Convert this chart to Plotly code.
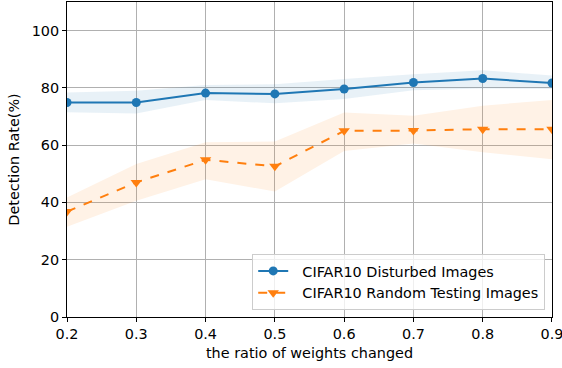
import plotly.graph_objects as go

# ratio of weights changed
ratios = [0.2, 0.3, 0.4, 0.5, 0.6, 0.7, 0.8, 0.9]

# CIFAR10 disturbed images: mean detection rate and band limits
disturbed_mean = [74.9, 74.9, 78.2, 77.9, 79.6, 81.9, 83.3, 81.7]
disturbed_upper = [78.4, 79.0, 81.0, 81.3, 83.1, 84.8, 86.2, 84.3]
disturbed_lower = [71.5, 71.1, 75.8, 74.6, 76.1, 79.2, 79.8, 79.6]

# CIFAR10 random testing images: mean detection rate and band limits
random_mean = [36.8, 47.0, 54.9, 52.6, 65.0, 65.1, 65.6, 65.6]
random_upper = [41.7, 53.4, 61.0, 61.3, 71.4, 70.3, 73.8, 75.8]
random_lower = [31.5, 40.6, 48.1, 43.8, 58.0, 60.6, 57.5, 55.1]

x_ticks = [0.2, 0.3, 0.4, 0.5, 0.6, 0.7, 0.8, 0.9]
y_ticks = [0, 20, 40, 60, 80, 100]

BLUE = "#1f77b4"
ORANGE = "#ff7f0e"
FONT = "DejaVu Sans"
FS = 14.4
PAD = "\u00a0\u00a0"  # small gap between legend symbol and label

fig = go.Figure()


def add_band(upper, lower, fill):
    fig.add_trace(go.Scatter(
        x=ratios + ratios[::-1],
        y=upper + lower[::-1],
        fill="toself",
        fillcolor=fill,
        line=dict(width=0),
        mode="lines",
        hoverinfo="skip",
        showlegend=False,
    ))


add_band(disturbed_upper, disturbed_lower, "rgba(31,119,180,0.1)")
add_band(random_upper, random_lower, "rgba(255,127,14,0.1)")

fig.add_trace(go.Scatter(
    x=ratios, y=disturbed_mean,
    mode="lines+markers",
    name=PAD + "CIFAR10 Disturbed Images",
    line=dict(color=BLUE, width=2),
    marker=dict(symbol="circle", size=9, color=BLUE),
))
fig.add_trace(go.Scatter(
    x=ratios, y=random_mean,
    mode="lines+markers",
    name=PAD + "CIFAR10 Random Testing Images",
    line=dict(color=ORANGE, width=2, dash="dash"),
    marker=dict(symbol="triangle-down", size=10, color=ORANGE),
))

axis_common = dict(
    showline=True, linecolor="black", linewidth=1, mirror=True,
    showgrid=True, gridcolor="#b0b0b0", gridwidth=1,
    ticks="outside", ticklen=4, tickcolor="black", tickwidth=1,
    zeroline=False, automargin=False,
    ticklabeloverflow="allow",
    tickfont=dict(family=FONT, size=FS, color="black"),
)

fig.update_xaxes(
    range=[0.19999, 0.90001], tickvals=x_ticks,
    ticktext=[f"{v:.1f}" for v in x_ticks],
    title=dict(text="the ratio of weights changed",
               font=dict(family=FONT, size=FS, color="black"), standoff=6),
    **axis_common,
)
fig.update_yaxes(
    range=[0, 110], tickvals=y_ticks,
    title=dict(text="Detection Rate(%)",
               font=dict(family=FONT, size=FS, color="black"), standoff=8),
    **axis_common,
)

fig.update_layout(
    width=562, height=368,
    margin=dict(l=67, r=10, t=2, b=51),
    plot_bgcolor="white", paper_bgcolor="white",
    font=dict(family=FONT, size=FS, color="black"),
    legend=dict(
        x=0.986, y=0.022, xanchor="right", yanchor="bottom",
        bgcolor="rgba(255,255,255,0.8)", bordercolor="#cccccc", borderwidth=1,
        font=dict(family=FONT, size=FS, color="black"),
        tracegroupgap=0,
    ),
)

fig.write_html("out.html")
